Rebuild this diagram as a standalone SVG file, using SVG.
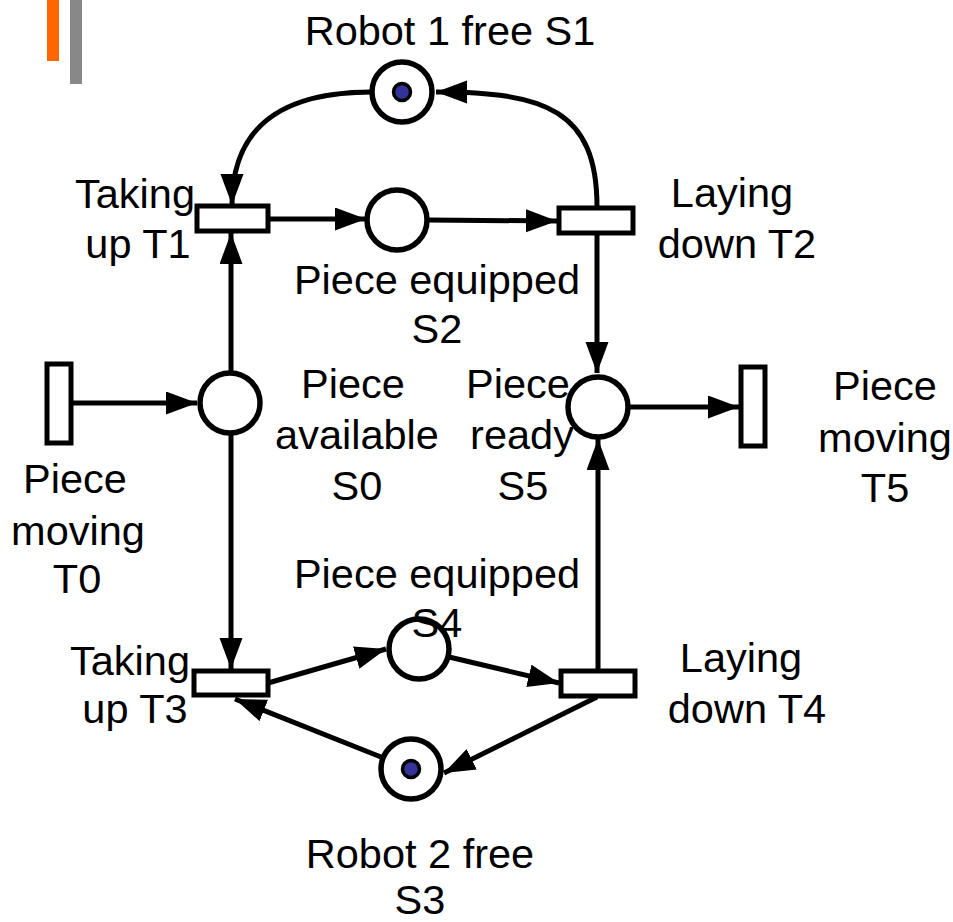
<svg xmlns="http://www.w3.org/2000/svg" width="953" height="922" viewBox="0 0 953 922">
<style>
.arc{fill:none;stroke:#000;stroke-width:5;marker-end:url(#ah)}
.pl{fill:#fff;stroke:#000;stroke-width:5.5}
.tr{fill:#fff;stroke:#000;stroke-width:5}
.tok{fill:#333399;stroke:#000;stroke-width:3.5}
.lb{font-family:"Liberation Sans",Arial,sans-serif;font-size:41.5px;fill:#000;text-anchor:middle}
</style>
<defs>
<marker id="ah" markerUnits="userSpaceOnUse" markerWidth="34" markerHeight="26" refX="31" refY="11.5" orient="auto">
<path d="M0,0 L31,11.5 L0,23 z" fill="#000"/>
</marker>
</defs>
<rect x="0" y="0" width="953" height="922" fill="#fff"/>
<rect x="47" y="0" width="12" height="61" fill="#FF6600"/>
<rect x="70" y="0" width="12" height="84" fill="#888888"/>
<g id="connectors">
<path class="arc" d="M597,207 C597,110 545,92 436,92"/>
<path class="arc" d="M372,92 C290,92 232,120 232,205"/>
<path class="arc" d="M270,219 L366,219"/>
<path class="arc" d="M428,220 L557,221"/>
<path class="arc" d="M597,235 L597,373"/>
<path class="arc" d="M231,373 L231,233"/>
<path class="arc" d="M71,403 L197,403"/>
<path class="arc" d="M231,434 L231,669"/>
<path class="arc" d="M630,407 L739,407"/>
<path class="arc" d="M268,683 L386,649"/>
<path class="arc" d="M449,657 L559,683"/>
<path class="arc" d="M598,671 L598,439"/>
<path class="arc" d="M597,697 L444,773"/>
<path class="arc" d="M381,757 L235,699"/>
</g>
<g id="S1">
<circle class="pl" cx="402" cy="92" r="30"/>
<circle class="tok" cx="402" cy="92" r="8.5"/>
<text class="lb" x="450" y="45">Robot 1 free S1</text>
</g>
<g id="T1">
<rect class="tr" x="197" y="206" width="71" height="25"/>
<text class="lb" x="135" y="208">Taking</text>
<text class="lb" x="138" y="258">up T1</text>
</g>
<g id="S2">
<circle class="pl" cx="397" cy="220" r="30"/>
<text class="lb" x="437" y="294">Piece equipped</text>
<text class="lb" x="437" y="343">S2</text>
</g>
<g id="T2">
<rect class="tr" x="559" y="208" width="74" height="25"/>
<text class="lb" x="732" y="207">Laying</text>
<text class="lb" x="737" y="258">down T2</text>
</g>
<g id="T0">
<rect class="tr" x="47" y="364" width="24" height="79"/>
<text class="lb" x="75" y="493">Piece</text>
<text class="lb" x="78" y="545">moving</text>
<text class="lb" x="77" y="593">T0</text>
</g>
<g id="S0">
<circle class="pl" cx="230" cy="403" r="30"/>
<text class="lb" x="353" y="398">Piece</text>
<text class="lb" x="357" y="449">available</text>
<text class="lb" x="357" y="500">S0</text>
</g>
<g id="S5">
<circle class="pl" cx="598" cy="407" r="30"/>
<text class="lb" x="518" y="398">Piece</text>
<text class="lb" x="522" y="449">ready</text>
<text class="lb" x="523" y="500">S5</text>
</g>
<g id="T5">
<rect class="tr" x="741" y="367" width="24" height="79"/>
<text class="lb" x="885" y="400">Piece</text>
<text class="lb" x="885" y="452">moving</text>
<text class="lb" x="885" y="502">T5</text>
</g>
<g id="S4">
<circle class="pl" cx="419" cy="649" r="30"/>
<text class="lb" x="437" y="588">Piece equipped</text>
<text class="lb" x="437" y="637">S4</text>
</g>
<g id="T3">
<rect class="tr" x="194" y="671" width="74" height="24"/>
<text class="lb" x="130" y="675">Taking</text>
<text class="lb" x="135" y="723">up T3</text>
</g>
<g id="T4">
<rect class="tr" x="561" y="671" width="74" height="25"/>
<text class="lb" x="741" y="672">Laying</text>
<text class="lb" x="747" y="723">down T4</text>
</g>
<g id="S3">
<circle class="pl" cx="411" cy="769" r="30"/>
<circle class="tok" cx="411" cy="769" r="8.5"/>
<text class="lb" x="420" y="868">Robot 2 free</text>
<text class="lb" x="420" y="914">S3</text>
</g>
</svg>
